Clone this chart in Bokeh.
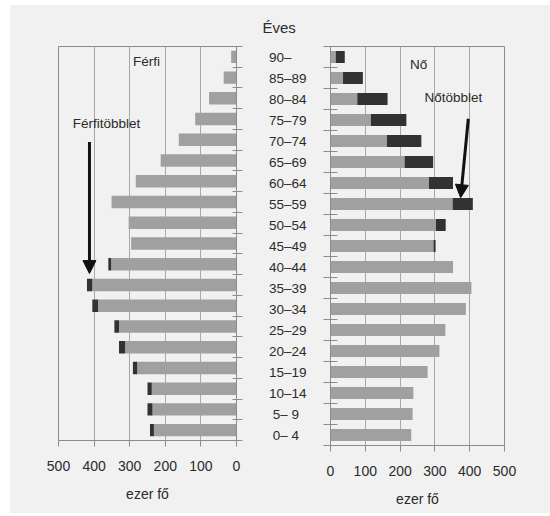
from bokeh.plotting import figure
from bokeh.layouts import row
from bokeh.models import Range1d, FixedTicker, Label, Arrow, NormalHead, LinearAxis, ColumnDataSource, Title
from bokeh.embed import file_html
from bokeh.resources import INLINE

# ---- data (thousand persons), youngest to oldest ----
ages = ["0\u2013 4", "5\u2013 9", "10\u201314", "15\u201319", "20\u201324", "25\u201329",
        "30\u201334", "35\u201339", "40\u201344", "45\u201349", "50\u201354", "55\u201359",
        "60\u201364", "65\u201369", "70\u201374", "75\u201379", "80\u201384", "85\u201389", "90\u2013"]
male = [243, 250, 250, 291, 330, 343, 405, 420, 360, 296, 303, 351, 283, 213, 162, 116, 77, 36, 15]
female = [232, 236, 238, 279, 313, 330, 389, 405, 352, 302, 331, 409, 352, 295, 261, 218, 164, 93, 41]
x_ticks = [0, 100, 200, 300, 400, 500]

BG = "#f1f1f1"
GRAY = "#a0a0a0"
DARK = "#323232"
AXIS = "#8c8c8c"
GRID = "#a8a8a8"
TEXT = "#2b2b2b"
FONT = "Liberation Sans"

n = len(ages)
pos = list(range(n))
bounds = [i - 0.5 for i in range(n + 1)]
common = [min(m, f) for m, f in zip(male, female)]

src_common = ColumnDataSource(dict(y=pos, v=common))
mx = [(p, c, m) for p, c, m in zip(pos, common, male) if m > c]
fx = [(p, c, f) for p, c, f in zip(pos, common, female) if f > c]
src_male_extra = ColumnDataSource(dict(y=[a[0] for a in mx], l=[a[1] for a in mx], r=[a[2] for a in mx]))
src_fem_extra = ColumnDataSource(dict(y=[a[0] for a in fx], l=[a[1] for a in fx], r=[a[2] for a in fx]))


def make_fig(x_range, fw, fh, bl, br, bt, bb):
    p = figure(x_range=x_range, y_range=Range1d(-0.5, n - 0.5),
               frame_width=fw, frame_height=fh,
               min_border_left=bl, min_border_right=br, min_border_top=bt, min_border_bottom=bb,
               output_backend="svg", toolbar_location=None, y_axis_location=None,
               background_fill_color=BG, border_fill_color=BG)
    p.outline_line_color = AXIS
    p.ygrid.visible = False
    p.xgrid.ticker = FixedTicker(ticks=x_ticks)
    p.xgrid.grid_line_color = GRID
    xa = p.xaxis[0]
    xa.ticker = FixedTicker(ticks=x_ticks)
    xa.axis_line_color = AXIS
    xa.major_tick_line_color = AXIS
    xa.major_tick_in = 0
    xa.major_tick_out = 6
    xa.minor_tick_line_color = None
    xa.major_label_standoff = 14
    xa.major_label_text_font = FONT
    xa.major_label_text_font_size = "14px"
    xa.major_label_text_color = TEXT
    xa.axis_label = "ezer f\u0151"
    xa.axis_label_text_font = FONT
    xa.axis_label_text_font_size = "14px"
    xa.axis_label_text_font_style = "normal"
    xa.axis_label_text_color = TEXT
    xa.axis_label_standoff = 12
    return p


# ---- left: men ----
pl = make_fig(Range1d(500, 0), 178, 394, 48, 24, 41, 71)
pl.hbar(y="y", left=0, right="v", height=0.6, source=src_common, fill_color=GRAY, line_color=None)
pl.hbar(y="y", left="l", right="r", height=0.6, source=src_male_extra, fill_color=DARK, line_color=None)
yl = LinearAxis(ticker=FixedTicker(ticks=pos, minor_ticks=bounds),
                major_tick_in=0, major_tick_out=0, minor_tick_in=4, minor_tick_out=6,
                minor_tick_line_color=AXIS, axis_line_color=AXIS,
                major_label_overrides={i: "" for i in pos})
pl.add_layout(yl, "right")
pl.add_layout(Label(x=253, y=17.8, text="F\u00e9rfi", text_align="center", text_baseline="middle",
                    text_font=FONT, text_font_size="13.5px", text_color=TEXT))
pl.add_layout(Label(x=365, y=14.77, text="F\u00e9rfit\u00f6bblet", text_align="center",
                    text_baseline="middle", text_font=FONT, text_font_size="13.5px", text_color=TEXT))
pl.add_layout(Arrow(x_start=413, y_start=13.9, x_end=413, y_end=7.55, line_width=3, line_color="#111111",
                    end=NormalHead(size=13, fill_color="#111111", line_color="#111111")))

# ---- right: women ----
pr = make_fig(Range1d(0, 500), 174, 399, 70, 46, 37, 70)
pr.title = Title(text="\u00c9ves", align="left", vertical_align="middle", offset=-68, standoff=20,
                 text_font=FONT, text_font_size="15px", text_font_style="normal", text_color=TEXT)
pr.hbar(y="y", left=0, right="v", height=0.56, source=src_common, fill_color=GRAY, line_color=None)
pr.hbar(y="y", left="l", right="r", height=0.56, source=src_fem_extra, fill_color=DARK, line_color=None)
maxlen = max(len(a) for a in ages)
yr = LinearAxis(ticker=FixedTicker(ticks=pos, minor_ticks=bounds),
                major_tick_in=0, major_tick_out=0, minor_tick_in=7, minor_tick_out=7,
                minor_tick_line_color=AXIS, axis_line_color=AXIS,
                major_label_overrides={i: a + "\u2007" * (maxlen - len(a)) for i, a in zip(pos, ages)},
                major_label_standoff=17, major_label_text_font=FONT,
                major_label_text_font_size="13.5px", major_label_text_color=TEXT)
pr.add_layout(yr, "left")
pr.add_layout(Label(x=253, y=17.64, text="N\u0151", text_align="center", text_baseline="middle",
                    text_font=FONT, text_font_size="13.5px", text_color=TEXT))
pr.add_layout(Label(x=353, y=16.07, text="N\u0151t\u00f6bblet", text_align="center", text_baseline="middle",
                    text_font=FONT, text_font_size="13.5px", text_color=TEXT))
pr.add_layout(Arrow(x_start=396, y_start=15.06, x_end=374, y_end=11.3, line_width=3, line_color="#111111",
                    end=NormalHead(size=13, fill_color="#111111", line_color="#111111")))

layout = row(pl, pr, spacing=0, margin=(5, 0, 0, 10), styles={"background-color": BG})
open("out.html", "w").write(file_html(layout, INLINE))
